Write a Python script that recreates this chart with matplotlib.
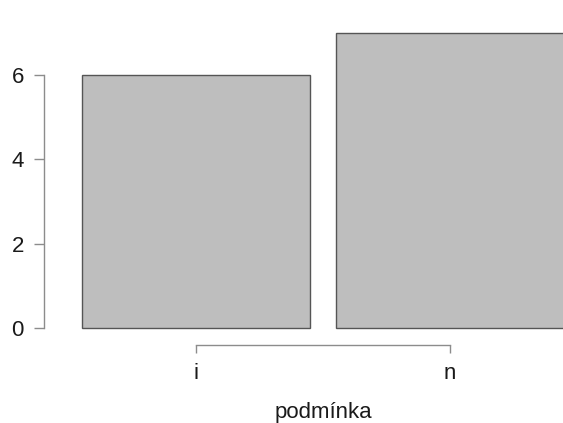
import matplotlib
matplotlib.use("Agg")
import matplotlib.pyplot as plt

# counts per condition
categories = ["i", "n"]
counts = [6, 7]
y_ticks = [0, 2, 4, 6]
x_label = "podmínka"

plt.rcParams["font.family"] = ["Liberation Sans", "DejaVu Sans"]

fig = plt.figure(figsize=(5.63, 4.23), dpi=100)
ax = fig.add_axes([0, 0, 1, 1])

positions = list(range(len(categories)))
ax.bar(positions, counts, width=0.9, color="#bebebe", edgecolor="#555555", linewidth=1.0)

# data limits chosen so that the plot region fills the canvas
ax.set_xlim(-0.7717, 1.4449)
ax.set_ylim(-2.253, 7.778)

axis_col = "#8c8c8c"
for side in ("top", "right"):
    ax.spines[side].set_visible(False)

ax.spines["left"].set_position(("data", -0.598))
ax.spines["left"].set_bounds(0, 6)
ax.spines["bottom"].set_position(("data", -0.403))
ax.spines["bottom"].set_bounds(0, 1)
for side in ("left", "bottom"):
    ax.spines[side].set_color(axis_col)
    ax.spines[side].set_linewidth(1.0)

ax.set_yticks(y_ticks)
ax.set_yticklabels([str(t) for t in y_ticks])
ax.set_xticks(positions)
ax.set_xticklabels(categories)

fs = 16
ax.tick_params(axis="y", direction="out", length=7.5, width=1.0, color=axis_col,
               pad=7, labelsize=fs, labelcolor="#1a1a1a")
ax.tick_params(axis="x", direction="out", length=5.8, width=1.0, color=axis_col,
               pad=7.5, labelsize=fs, labelcolor="#1a1a1a")

ax.set_xlabel(x_label, fontsize=fs, color="#1a1a1a", va="baseline")
ax.xaxis.set_label_coords(0.5746, 0.0118)

fig.savefig("out.png", dpi=100)
